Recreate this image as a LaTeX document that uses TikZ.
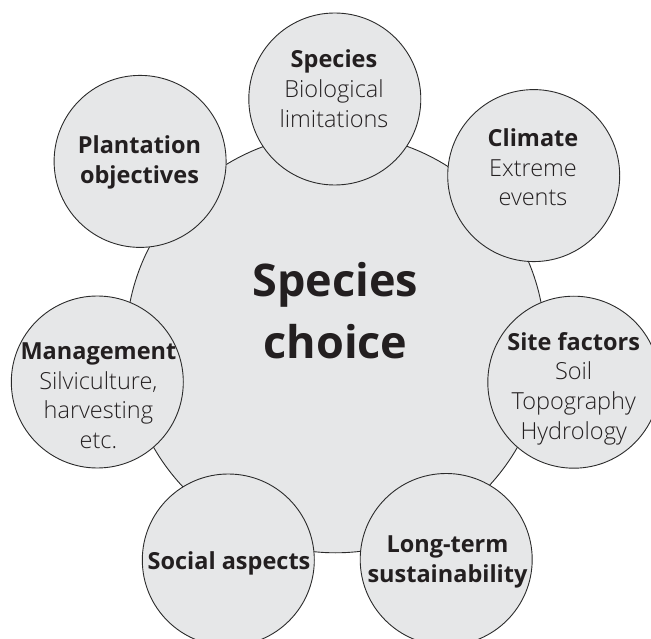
\documentclass[tikz,border=0pt]{standalone}
\usepackage{fontspec}
\setmainfont{Open Sans}[FontFace={l}{n}{Font=Open Sans Light}]
\definecolor{disc}{HTML}{E6E7E8}
\definecolor{rim}{HTML}{2B2B2B}
\definecolor{ink}{HTML}{231F20}
\newcommand{\hd}[1]{{\fontsize{23.5}{29.6}\selectfont\bfseries #1}}
\tikzset{
  hub/.style={circle, draw=rim, fill=disc, line width=0.9pt, minimum size=419pt, inner sep=0pt},
  sat/.style={circle, draw=rim, fill=disc, line width=0.9pt, minimum size=172pt, inner sep=0pt},
  lbl/.style={anchor=base, inner sep=0pt, text=ink, font=\fontsize{23.5}{29.6}\selectfont\fontseries{l}\selectfont},
  biglbl/.style={anchor=base, inner sep=0pt, text=ink, font=\fontsize{45}{62}\selectfont\bfseries}
}
\newcommand{\lines}[1]{\begin{tabular}[t]{@{}c@{}}#1\end{tabular}}
\begin{document}
\begin{tikzpicture}[x=1pt, y=-1pt]
  \useasboundingbox (0,0) rectangle (651,639);
  \clip (0,0) rectangle (651,639);

  % central disc
  \node[hub] (hub) at (335.5,343.3) {};

  % surrounding discs
  \node[sat] (spec) at (334.8,99) {};
  \node[sat] (clim) at (533.7,175.6) {};
  \node[sat] (site) at (573.8,382.2) {};
  \node[sat] (long) at (446.2,559.5) {};
  \node[sat] (soc)  at (228.3,560) {};
  \node[sat] (mgmt) at (97.3,382) {};
  \node[sat] (plan) at (140.1,161.4) {};

  % labels
  \node[biglbl] (hubT) at (335.5,297) {\lines{Species\\choice}};
  \node[lbl] (specT) at (334,68) {\lines{\hd{Species}\\Biological\\limitations}};
  \node[lbl] (climT) at (533,146.7) {\lines{\hd{Climate}\\Extreme\\events}};
  \node[lbl] (siteT) at (573.7,350.4) {\lines{\hd{Site factors}\\Soil\\Topography\\Hydrology}};
  \node[lbl] (longT) at (447.5,552.5) {\lines{\hd{Long-term}\\\hd{sustainability}}};
  \node[lbl] (socT)  at (229,569.7) {\lines{\hd{Social aspects}}};
  \node[lbl] (mgmtT) at (98.4,359.4) {\lines{\hd{Management}\\Silviculture,\\harvesting\\etc.}};
  \node[lbl] (planT) at (139.5,154) {\lines{\hd{Plantation}\\\hd{objectives}}};
\end{tikzpicture}
\end{document}
